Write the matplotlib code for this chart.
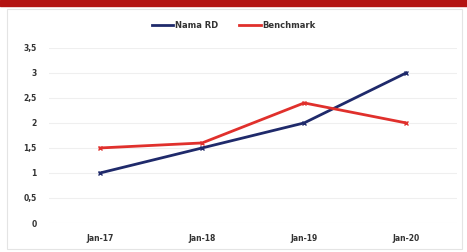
import matplotlib.pyplot as plt
from matplotlib.patches import Rectangle
from matplotlib.lines import Line2D

# chart data
periods = ['Jan-17', 'Jan-18', 'Jan-19', 'Jan-20']
nama_rd = [1.0, 1.5, 2.0, 3.0]
benchmark = [1.5, 1.6, 2.4, 2.0]
y_ticks = [0, 0.5, 1, 1.5, 2, 2.5, 3, 3.5]
y_labels = ['0', '0,5', '1', '1,5', '2', '2,5', '3', '3,5']

fig = plt.figure(figsize=(4.67, 2.52), dpi=100)
fig.patch.set_facecolor('white')

# red band at the top and light frame
fig.add_artist(Rectangle((0, 0.975), 1, 0.025, transform=fig.transFigure,
                         color='#b31312', zorder=5))
fig.add_artist(Rectangle((0.015, 0.01), 0.975, 0.955, transform=fig.transFigure,
                         fill=False, edgecolor='#e4e4e4', lw=0.8))

ax = fig.add_axes([0.105, 0.115, 0.874, 0.695])
x = range(len(periods))
ax.plot(x, nama_rd, color='#1f2a6b', lw=2, marker='x', ms=3, mew=1)
ax.plot(x, benchmark, color='#e0302c', lw=2, marker='x', ms=3, mew=1)

ax.set_xlim(-0.5, len(periods) - 0.5)
ax.set_ylim(0, 3.5)
ax.set_xticks(list(x))
ax.set_xticklabels(periods, fontsize=5.5, fontweight='bold', color='#333333')
ax.set_yticks(y_ticks)
ax.set_yticklabels(y_labels, fontsize=5.5, fontweight='bold', color='#333333')
ax.tick_params(axis='x', length=0, pad=8)
ax.tick_params(axis='y', length=0, pad=9)
ax.grid(axis='y', color='#efefef', lw=0.8)
ax.set_axisbelow(True)
for s in ax.spines.values():
    s.set_visible(False)

handles = [Line2D([], [], color='#1f2a6b', lw=2),
           Line2D([], [], color='#e0302c', lw=2)]
leg = fig.legend(handles, ['Nama RD', 'Benchmark'], loc='center',
                 bbox_to_anchor=(0.5, 0.9), ncol=2, frameon=False,
                 prop={'size': 6, 'weight': 'bold'}, handlelength=2.6,
                 columnspacing=2.5, handletextpad=0.2)
for t in leg.get_texts():
    t.set_color('#333333')

fig.savefig('out.png', dpi=100)
